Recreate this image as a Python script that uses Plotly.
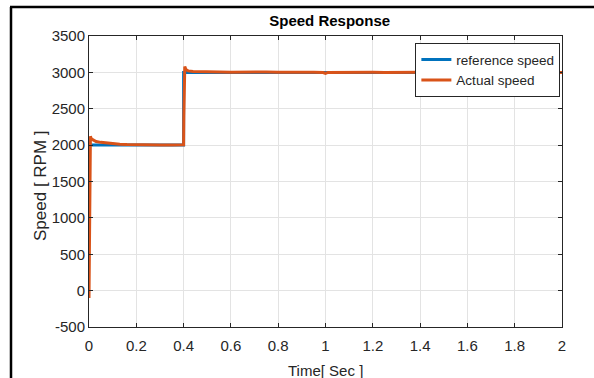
import plotly.graph_objects as go

# Reference speed (step command)
ref_time = [0.0, 0.4, 0.4, 2.0]
ref_speed = [2000, 2000, 3000, 3000]

# Actual speed
act_time = [0.0, 0.001, 0.002, 0.003, 0.004, 0.006, 0.01, 0.02, 0.03, 0.05, 0.07, 0.1,
            0.13, 0.16, 0.2, 0.25, 0.3, 0.35, 0.398, 0.4, 0.401, 0.402, 0.403, 0.405,
            0.41, 0.42, 0.44, 0.47, 0.5, 0.55, 0.6, 0.65, 0.7, 0.75, 0.8, 0.85, 0.9,
            0.95, 0.99, 1.0, 1.01, 1.05, 1.1, 1.15, 1.2, 1.25, 1.3, 1.35, 1.4, 1.45,
            1.5, 1.55, 1.6, 1.65, 1.7, 1.75, 1.8, 1.85, 1.9, 1.95, 2.0]
act_speed = [-100, 500, 1200, 1800, 2110, 2120, 2085, 2065, 2050, 2038, 2030, 2020,
             2012, 2008, 2004, 2002, 2001, 2000, 2002, 2004, 2400, 2850, 3060, 3080,
             3040, 3020, 3012, 3008, 3006, 3004, 3003, 3006, 3002, 3004, 3001, 3003, 3000,
             3002, 2998, 2985, 2999, 3001, 3002, 3000, 3001, 2999, 3002, 3000, 3001, 2999,
             3002, 3000, 3001, 2999, 3000, 3002, 2999, 3001, 3000, 2999, 3000]

x_ticks = [0, 0.2, 0.4, 0.6, 0.8, 1, 1.2, 1.4, 1.6, 1.8, 2]
x_tick_text = ["0", "0.2", "0.4", "0.6", "0.8", "1", "1.2", "1.4", "1.6", "1.8", "2"]
y_ticks = [-500, 0, 500, 1000, 1500, 2000, 2500, 3000, 3500]
y_tick_text = ["-500", "0", "500", "1000", "1500", "2000", "2500", "3000", "3500"]

font_family = "Liberation Sans, Arial, sans-serif"

fig = go.Figure()
fig.add_trace(go.Scatter(x=ref_time, y=ref_speed, mode="lines", name="reference speed",
                         line=dict(color="#0072BD", width=3)))
fig.add_trace(go.Scatter(x=act_time, y=act_speed, mode="lines", name="Actual speed",
                         line=dict(color="#D95319", width=3)))

axis_common = dict(showline=True, linecolor="#262626", linewidth=1, mirror="ticks",
                   ticks="inside", ticklen=4, tickcolor="#262626", automargin=False,
                   showgrid=True, gridcolor="#e3e3e3", gridwidth=1, zeroline=False,
                   tickfont=dict(family=font_family, size=15, color="#262626"))

fig.update_layout(
    width=594, height=378,
    margin=dict(l=89, r=32, t=36, b=51),
    paper_bgcolor="white", plot_bgcolor="white",
    title=dict(text="<b>Speed Response</b>", x=0.555, xanchor="center", y=0.944, yanchor="middle",
               font=dict(family=font_family, size=15, color="black")),
    xaxis=dict(range=[0, 2], tickvals=x_ticks, ticktext=x_tick_text,
               ticklabelstandoff=5, **axis_common),
    yaxis=dict(range=[-500, 3500], tickvals=y_ticks, ticktext=y_tick_text,
               **axis_common),
    legend=dict(x=0.69, y=0.975, xanchor="left", yanchor="top",
                bgcolor="white", bordercolor="#262626", borderwidth=1,
                font=dict(family=font_family, size=13.5, color="#262626"),
                tracegroupgap=0),
    showlegend=True,
    annotations=[
        dict(text="Time[ Sec ]", xref="paper", yref="paper", x=0.5, y=-43/291,
             xanchor="center", yanchor="middle", showarrow=False,
             font=dict(family=font_family, size=15, color="#262626")),
        dict(text="Speed [ RPM ]", xref="paper", yref="paper", x=-48/473, y=141/291,
             xanchor="center", yanchor="middle", textangle=-90, showarrow=False,
             font=dict(family=font_family, size=17, color="#262626")),
    ],
)

# outer black frame (top and left edges of the screenshot)
fig.add_shape(type="line", xref="paper", yref="paper",
              x0=-79/473, x1=(594 - 89) / 473, y0=(378 - 51 - 7) / 291, y1=(378 - 51 - 7) / 291,
              line=dict(color="black", width=2.5))
fig.add_shape(type="line", xref="paper", yref="paper",
              x0=-78/473, x1=-78/473, y0=(378 - 51 - 7) / 291, y1=-51/291,
              line=dict(color="black", width=2.5))

fig.write_html("out.html", config={"displayModeBar": False},
               post_script="document.body.style.margin='0';document.body.style.overflow='hidden';")
